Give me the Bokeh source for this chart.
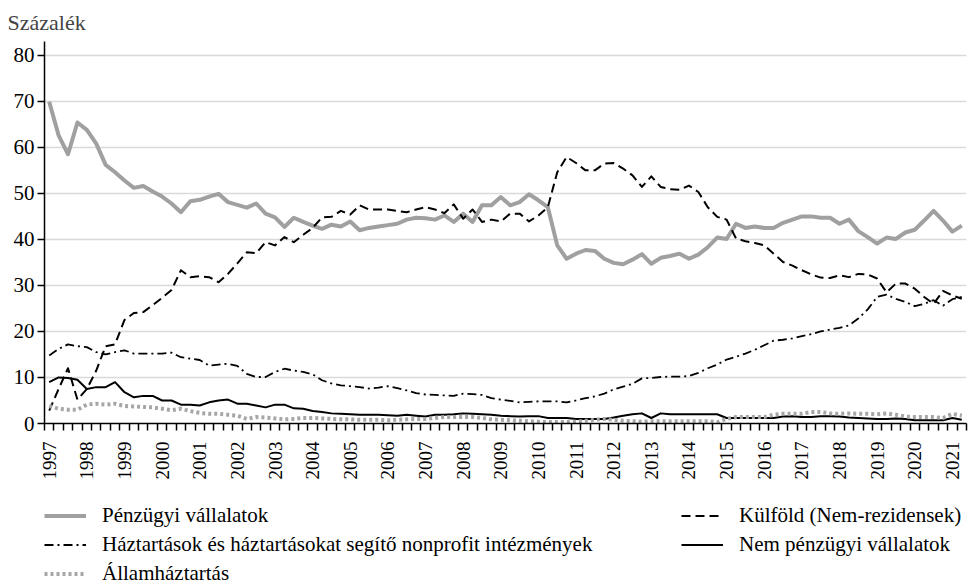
from bokeh.plotting import figure
from bokeh.models import Range1d, FixedTicker, Legend, LegendItem
from bokeh.layouts import column
from bokeh.embed import file_html
from bokeh.resources import INLINE

# 1997Q1 .. 2021Q2, quarterly
years = list(range(1997, 2022))
quarter_index = list(range(98))

penzugyi = [69.9, 62.6, 58.5, 65.4, 63.8, 60.8, 56.2, 54.6, 52.8, 51.2,
            51.6, 50.4, 49.3, 47.8, 45.9, 48.3, 48.6, 49.3, 49.9, 48.1,
            47.5, 46.9, 47.8, 45.6, 44.8, 42.7, 44.7, 43.8, 43.0, 42.3,
            43.2, 42.8, 43.9, 42.0, 42.5, 42.8, 43.1, 43.4, 44.3, 44.7,
            44.6, 44.3, 45.2, 43.8, 45.6, 43.8, 47.4, 47.4, 49.2, 47.4,
            48.1, 49.8, 48.5, 47.0, 38.7, 35.8, 36.9, 37.7, 37.5, 35.8,
            34.9, 34.6, 35.6, 36.8, 34.7, 36.0, 36.4, 36.9, 35.8, 36.7,
            38.3, 40.4, 40.1, 43.4, 42.5, 42.8, 42.5, 42.5, 43.6, 44.3,
            45.0, 45.0, 44.7, 44.7, 43.4, 44.3, 41.8, 40.5, 39.1, 40.4,
            40.1, 41.5, 42.1, 44.1, 46.2, 44.1, 41.7, 43.0]

kulfold = [2.8, 7.5, 12.0, 5.2, 7.5, 11.5, 16.8, 17.2, 22.5, 24.0,
           24.2, 25.7, 27.3, 29.0, 33.3, 31.8, 32.0, 31.8, 30.7, 32.5,
           34.8, 37.2, 37.0, 39.4, 38.7, 40.5, 39.4, 41.0, 42.5, 44.8,
           44.9, 46.2, 45.4, 47.4, 46.5, 46.5, 46.5, 46.2, 45.9, 46.5,
           47.0, 46.5, 45.7, 47.6, 44.5, 46.5, 43.8, 44.3, 43.9, 45.6,
           45.6, 43.9, 45.2, 47.0, 54.6, 57.9, 56.6, 55.0, 55.0, 56.5,
           56.6, 55.4, 53.9, 51.4, 53.7, 51.4, 50.9, 50.8, 51.7, 50.3,
           47.0, 44.9, 44.3, 40.2, 39.6, 39.2, 38.7, 36.9, 35.1, 34.3,
           33.3, 32.4, 31.7, 31.6, 32.2, 31.8, 32.5, 32.4, 31.5, 28.5,
           30.4, 30.4, 29.3, 27.5, 26.0, 28.8, 27.8, 27.1]

haztartasok = [14.8, 16.2, 17.2, 16.8, 16.6, 15.5, 15.0, 15.5, 15.9, 15.2,
               15.2, 15.2, 15.2, 15.4, 14.4, 14.1, 13.8, 12.6, 12.8, 13.0,
               12.5, 10.8, 10.1, 10.1, 11.2, 11.9, 11.5, 11.2, 10.7, 9.4,
               8.7, 8.3, 8.1, 7.9, 7.6, 7.8, 8.1, 7.7, 7.2, 6.6,
               6.3, 6.2, 6.1, 6.0, 6.5, 6.4, 6.2, 5.5, 5.2, 4.9,
               4.6, 4.7, 4.8, 4.8, 4.8, 4.6, 5.0, 5.5, 5.9, 6.5,
               7.4, 8.0, 8.6, 9.8, 9.9, 10.1, 10.2, 10.2, 10.3, 11.0,
               12.0, 12.8, 13.9, 14.5, 15.2, 16.0, 17.0, 18.0, 18.2, 18.5,
               19.0, 19.4, 20.0, 20.4, 20.8, 21.3, 22.8, 24.8, 27.5, 28.0,
               27.1, 26.4, 25.5, 26.0, 26.8, 25.6, 27.0, 27.5]

nem_penzugyi = [9.0, 10.0, 9.9, 9.5, 7.5, 7.9, 7.9, 9.0, 6.8, 5.7,
                6.0, 6.0, 5.0, 5.0, 4.1, 4.1, 3.9, 4.6, 5.0, 5.2,
                4.3, 4.3, 3.9, 3.5, 4.1, 4.1, 3.3, 3.2, 2.7, 2.5,
                2.2, 2.1, 2.0, 1.9, 1.9, 1.9, 1.8, 1.7, 1.9, 1.7,
                1.5, 1.9, 1.9, 2.0, 2.2, 2.1, 2.0, 1.9, 1.7, 1.6,
                1.5, 1.6, 1.6, 1.2, 1.2, 1.2, 1.0, 1.0, 1.0, 1.0,
                1.3, 1.7, 2.0, 2.2, 1.2, 2.2, 2.0, 2.0, 2.0, 2.0,
                2.0, 2.0, 1.2, 1.2, 1.2, 1.2, 1.2, 1.2, 1.5, 1.6,
                1.4, 1.4, 1.6, 1.6, 1.5, 1.3, 1.2, 1.1, 1.0, 1.0,
                1.1, 1.0, 0.7, 0.7, 0.7, 0.7, 1.2, 0.8]

allamhaztartas = [3.8, 3.2, 3.0, 3.0, 4.1, 4.3, 4.1, 4.3, 3.8, 3.7,
                  3.6, 3.5, 3.2, 2.9, 3.2, 2.7, 2.3, 2.1, 2.1, 1.9,
                  1.7, 1.0, 1.4, 1.3, 1.1, 0.9, 1.0, 1.2, 1.2, 1.1,
                  1.0, 0.9, 0.9, 0.8, 0.8, 0.8, 0.7, 0.8, 0.9, 1.0,
                  1.0, 1.2, 1.4, 1.4, 1.4, 1.4, 1.2, 0.9, 0.8, 0.7,
                  0.6, 0.5, 0.4, 0.3, 0.3, 0.3, 0.4, 0.6, 0.8, 1.0,
                  0.8, 0.6, 0.5, 0.4, 0.5, 0.5, 0.5, 0.5, 0.5, 0.5,
                  0.5, 0.3, 1.0, 1.4, 1.4, 1.4, 1.4, 1.9, 2.1, 2.1,
                  2.1, 2.5, 2.5, 2.2, 2.1, 2.2, 2.1, 2.1, 2.0, 2.2,
                  1.9, 1.5, 1.4, 1.4, 1.4, 1.2, 2.1, 1.7]

labels = ["Pénzügyi vállalatok",
          "Külföld (Nem-rezidensek)",
          "Háztartások és háztartásokat segítő nonprofit intézmények",
          "Nem pénzügyi vállalatok",
          "Államháztartás"]
y_ticks = list(range(0, 90, 10))

FONT = "Liberation Serif"
GREY = "#a0a0a0"
DOT_GREY = "#a6a6a6"

styles = [
    dict(line_color=GREY, line_width=4),
    dict(line_color="black", line_width=2, line_dash="9 5"),
    dict(line_color="black", line_width=1.8, line_dash="9 4 2 4"),
    dict(line_color="black", line_width=2),
    dict(line_color=DOT_GREY, line_width=4, line_dash="3 3"),
]

p = figure(frame_width=922, frame_height=382, min_border_left=44, min_border_right=10,
           min_border_top=41, min_border_bottom=67,
           x_range=Range1d(-0.5, 97.5), y_range=Range1d(0, 83),
           output_backend="svg", toolbar_location=None,
           background_fill_color="white", border_fill_color="white")

p.outline_line_color = None
p.xgrid.grid_line_color = None
p.ygrid.grid_line_color = "#d9d9d9"
p.ygrid.grid_line_width = 1.5
p.ygrid.ticker = FixedTicker(ticks=y_ticks)

# title (y unit)
p.title.text = "Százalék"
p.title.text_font = FONT
p.title.text_font_style = "normal"
p.title.text_font_size = "22px"
p.title.align = "left"
p.title.offset = -37
p.title.standoff = 14

# x axis
xa = p.xaxis[0]
xa.ticker = FixedTicker(ticks=[4 * k for k in range(len(years))],
                        minor_ticks=[i - 0.5 for i in range(99)])
xa.major_label_overrides = {4 * k: str(y) for k, y in enumerate(years)}
xa.major_label_orientation = 3.14159265 / 2
xa.major_label_text_font = FONT
xa.major_label_text_font_size = "19px"
xa.major_label_text_color = "black"
xa.major_tick_out = 0
xa.major_tick_in = 0
xa.minor_tick_out = 7
xa.minor_tick_in = 0
xa.minor_tick_line_color = "black"
xa.minor_tick_line_width = 1.5
xa.axis_line_color = "black"
xa.axis_line_width = 1.5
xa.major_label_standoff = 11

# y axis
ya = p.yaxis[0]
ya.ticker = FixedTicker(ticks=y_ticks)
ya.major_label_text_font = FONT
ya.major_label_text_font_size = "21px"
ya.major_label_text_color = "black"
ya.major_tick_out = 7
ya.major_tick_in = 0
ya.major_tick_line_width = 1.5
ya.minor_tick_line_color = None
ya.axis_line_color = "black"
ya.axis_line_width = 1.5
ya.major_label_standoff = 3

x = quarter_index
series = [penzugyi, kulfold, haztartasok, nem_penzugyi, allamhaztartas]
for s, st in zip(series, styles):
    p.line(x, s, line_join="round", **st)

# legend area (separate panel below the chart; its frame is aligned with the chart frame)
lp = figure(width=976, height=96, x_range=Range1d(0, 922), y_range=Range1d(0, 96),
            min_border=0, x_axis_location=None, y_axis_location=None,
            output_backend="svg", toolbar_location=None,
            background_fill_color="white", border_fill_color="white")
lp.outline_line_color = None
lp.grid.visible = False
# off-screen proxies, used only to draw the legend samples
lr = [lp.line(x=[-50, -40], y=[-50, -50], **st) for st in styles]

def make_legend(items, loc):
    return Legend(items=items, location=loc, orientation="vertical",
                  border_line_color=None, background_fill_alpha=0,
                  margin=0, padding=0, spacing=4, glyph_width=42, glyph_height=25,
                  label_height=25, label_standoff=16,
                  label_text_font=FONT, label_text_font_size="21px",
                  label_text_color="black")

leg1 = make_legend([LegendItem(label=labels[0], renderers=[lr[0]]),
                    LegendItem(label=labels[2], renderers=[lr[2]]),
                    LegendItem(label=labels[4], renderers=[lr[4]])], (0, 0))
leg2 = make_legend([LegendItem(label=labels[1], renderers=[lr[1]]),
                    LegendItem(label=labels[3], renderers=[lr[3]])], (637, 29))
lp.add_layout(leg1, "center")
lp.add_layout(leg2, "center")

layout = column(p, lp, spacing=0)
open("out.html", "w").write(file_html(layout, INLINE))
